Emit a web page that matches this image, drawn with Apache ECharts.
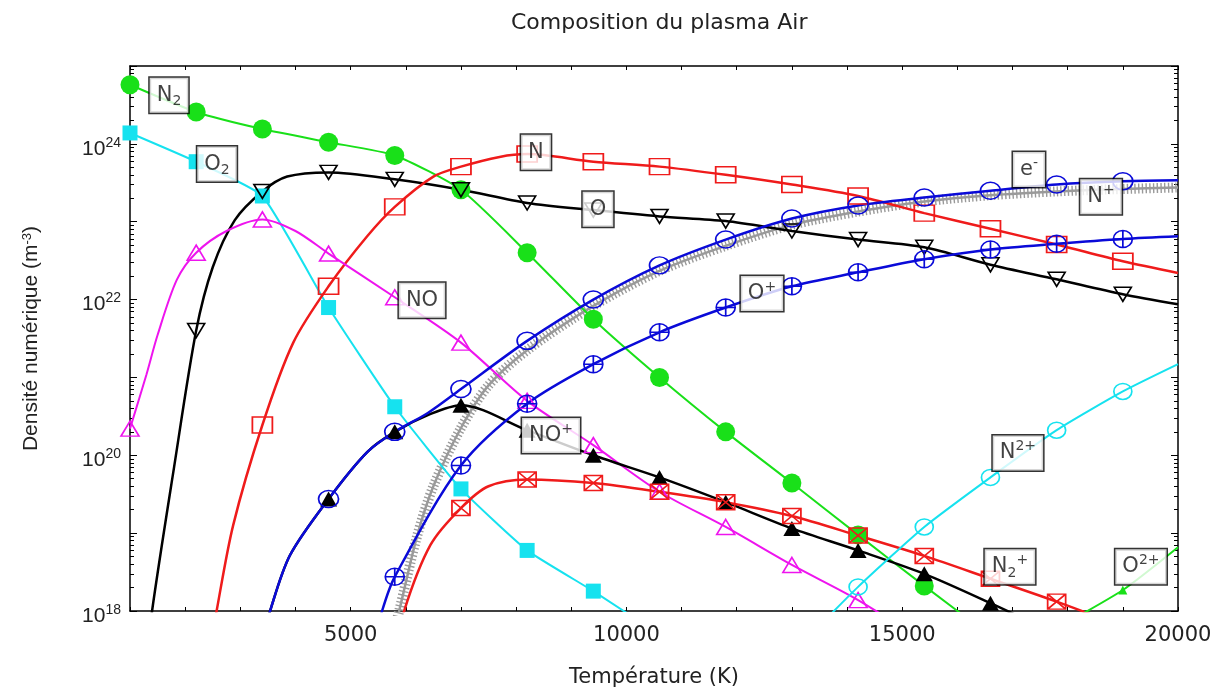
<!DOCTYPE html>
<html><head><meta charset="utf-8">
<script src="https://cdn.jsdelivr.net/npm/echarts@6/dist/echarts.min.js"></script>
<style>html,body{margin:0;padding:0;background:#fff}#c{width:1220px;height:693px}</style>
</head><body><div id="c"></div>
<script>
// Temperatures (K) where the markers are drawn
const markerT = [1000,2200,3400,4600,5800,7000,8200,9400,10600,11800,13000,14200,15400,16600,17800,19000];

// Number densities (m^-3) at the marker temperatures (null = no point)
const N2  = [5.75e24,2.57e24,1.55e24,1.05e24,7.1e23,2.57e23,4.0e22,5.6e21,1.0e21,2.0e20,4.4e19,9.5e18,2.1e18,4.8e17,null,null];
const O2  = [1.38e24,5.9e23,2.14e23,7.9e21,4.2e20,3.7e19,6.0e18,1.8e18,5.0e17,null,null,null,null,null,null,null];
const O   = [null,4.0e21,2.45e23,4.3e23,3.5e23,2.57e23,1.74e23,1.41e23,1.17e23,1.02e23,7.6e22,5.9e22,4.7e22,2.8e22,1.82e22,1.17e22];
const N   = [null,null,2.45e20,1.48e22,1.55e23,5.1e23,7.4e23,5.9e23,5.1e23,4.0e23,3.0e23,2.14e23,1.29e23,8.1e22,5.1e22,3.1e22];
const NO  = [2.2e20,4.0e22,1.07e23,3.9e22,1.07e22,2.8e21,5.0e20,1.35e20,3.4e19,1.2e19,3.9e18,1.38e18,4.0e17,null,null,null];
const NOp = [null,null,4.0e17,2.75e19,2.0e20,4.4e20,2.1e20,1.0e20,5.2e19,2.5e19,1.15e19,6.0e18,3.0e18,1.26e18,5.0e17,null];
const El  = [null,null,4.0e17,2.75e19,2.0e20,7.1e20,2.95e21,1.0e22,2.75e22,5.9e22,1.1e23,1.62e23,2.04e23,2.5e23,3.0e23,3.3e23];
const Op  = [null,null,null,null,2.75e18,7.4e19,4.6e20,1.48e21,3.8e21,7.9e21,1.48e22,2.24e22,3.3e22,4.4e22,5.2e22,6.0e22];
const N2p = [null,null,null,null,2.5e17,2.1e19,4.9e19,4.4e19,3.4e19,2.5e19,1.66e19,9.3e18,5.1e18,2.6e18,1.32e18,6.3e17];
const Npp = [null,null,null,null,null,null,null,null,null,null,2.8e17,2.04e18,1.2e19,5.2e19,2.1e20,6.6e20];
const Opp = [null,null,null,null,null,null,null,null,null,null,null,null,null,null,6.0e17,1.86e18];

// Extra curve points read between markers, [T, density]
const O_extra   = [[1300,2e17],[1400,1e18],[1800,7.1e19],[2500,2.6e22],[2900,1.05e23],[3850,3.8e23],[20000,8.7e21]];
const N_extra   = [[2400,2e17],[2570,1e18],[2870,1.26e19],[3960,2.8e21],[5300,6.5e22],[6500,3.8e23],[7700,6.8e23],[20000,2.2e22]];
const NO_extra  = [[1300,1.1e21],[1500,3.5e21],[1850,1.8e22],[2750,7.6e22],[4000,7.6e22]];
const NOp_extra = [[3540,1e18],[3900,5.2e18],[5300,1.1e20],[6450,3.4e20]];
const El_extra  = [[3540,1e18],[3900,5.2e18],[5300,1.1e20],[6400,3.5e20],[20000,3.4e23]];
const Op_extra  = [[5400,3.2e17],[5570,1e18],[20000,6.5e22]];
const N2p_extra = [[5970,1e18],[6450,7.1e18],[7500,4.0e19]];
const Npp_extra = [[20000,1.48e21]];
const Opp_extra = [[20000,6.6e18]];

// N+ (grey, dense '+' marks)
const NplusT = [5700,5880,6200,6500,7000,7500,8200,9400,10600,11800,13000,14200,15400,16600,17800,19000,20000];
const Nplus  = [3.2e17,1e18,8.9e18,4.0e19,2.24e20,7.9e20,2.24e21,8.3e21,2.34e22,4.9e22,9.1e22,1.35e23,1.82e23,2.19e23,2.45e23,2.63e23,2.75e23];

// Species labels: [T, density, text]
const labelsT    = [1707,2577,8360,9484,6294,17298,18603,12458,8633,17098,16953,19328];
const labelsV    = [4.2e24,5.5e23,7.8e23,1.45e23,9.8e21,4.7e23,2.1e23,1.2e22,1.8e20,1.07e20,3.7e18,3.7e18];
const labelsText = ['N{sub|2}','O{sub|2}','N','O','NO','e{sup|-}','N{sup|+}','O{sup|+}','NO{sup|+}','N{sup|2+}','N{sub|2}{sup|+}','O{sup|2+}'];

const xTicksMin = 1000, xTicksMax = 20000, xStep = 1000;
const yMajor = [1e18,1e19,1e20,1e21,1e22,1e23,1e24,1e25];
const yLabels = [1e18,1e20,1e22,1e24];
const yMinor = [];
for (let d = 18; d < 25; d++) for (let k = 2; k <= 9; k++) yMinor.push(k * Math.pow(10, d));

function merge(vals, extra) {
  const pts = [];
  markerT.forEach((t, i) => { if (vals[i] != null) pts.push({ value: [t, vals[i]] }); });
  (extra || []).forEach(p => pts.push({ value: [p[0], p[1]], symbol: 'none' }));
  pts.sort((a, b) => a.value[0] - b.value[0]);
  return pts;
}

const P_SQ = 'path://M0,0H10V10H0Z';
const P_SQX = 'path://M0,0H10V10H0Z M0,0L10,10 M10,0L0,10';
const P_CIR = 'path://M10,5A5,5,0,1,1,0,5A5,5,0,1,1,10,5Z';
const P_CIRP = 'path://M10,5A5,5,0,1,1,0,5A5,5,0,1,1,10,5Z M5,0V10 M0,5H10';
const P_TDN = 'path://M0,0H10L5,9Z';
const P_TUP = 'path://M5,0L10,9H0Z';

function curve(name, data, o) {
  return {
    name: name, type: 'line', data: data,
    smooth: o.smooth != null ? o.smooth : 0.3,
    symbol: o.symbol || 'none', symbolSize: o.size, showAllSymbol: true,
    lineStyle: { color: o.color, width: o.width || 2.5, type: o.dash || 'solid', cap: 'butt' },
    itemStyle: o.fill ? { color: o.color } : { color: 'rgba(0,0,0,0)', borderColor: o.color, borderWidth: 1.6 },
    emphasis: { disabled: true }, silent: true, z: o.z || 2, animation: false
  };
}

const GREEN = '#19e019', CYAN = '#16e2ef', RED = '#ef1b1b', MAG = '#ee14ee', BLUE = '#0a0ad8', BLACK = '#000', GREY = '#9a9a9a';

const nplusData = NplusT.map((t, i) => [t, Nplus[i]]);

const series = [
  curve('N+ hatch', nplusData, { color: GREY, width: 10, dash: [1.4, 2.3] }),
  curve('N+', nplusData, { color: GREY, width: 2.5 }),
  curve('N2', merge(N2), { color: GREEN, width: 2, symbol: 'circle', size: 19, fill: true, smooth: 0.2 }),
  curve('O2', merge(O2), { color: CYAN, width: 2, symbol: 'rect', size: 15, fill: true, smooth: 0.15 }),
  curve('O', merge(O, O_extra), { color: BLACK, width: 2.5, symbol: P_TDN, size: [17, 14] }),
  curve('N', merge(N, N_extra), { color: RED, width: 2.5, symbol: P_SQ, size: [20, 16] }),
  curve('NO', merge(NO, NO_extra), { color: MAG, width: 2, symbol: P_TUP, size: [18, 15], smooth: 0.3 }),
  curve('NO+', merge(NOp, NOp_extra), { color: BLACK, width: 2.5, symbol: 'triangle', size: [17, 15], fill: true }),
  curve('O+', merge(Op, Op_extra), { color: BLUE, width: 2.5, symbol: P_CIRP, size: [19, 17] }),
  curve('e-', merge(El, El_extra), { color: BLUE, width: 2.5, symbol: P_CIR, size: [20, 17] }),
  curve('N2+', merge(N2p, N2p_extra), { color: RED, width: 2.5, symbol: P_SQX, size: [18, 15] }),
  curve('N2+ion', merge(Npp, Npp_extra), { color: CYAN, width: 2, symbol: P_CIR, size: [18, 16], smooth: 0.2 }),
  curve('O2+', merge(Opp, Opp_extra), { color: GREEN, width: 2, symbol: 'triangle', size: 9, fill: true, smooth: 0.2 }),
  {
    name: 'labels', type: 'scatter', silent: true, z: 20, animation: false,
    symbol: 'circle', symbolSize: 1, itemStyle: { color: 'rgba(0,0,0,0)' },
    data: labelsT.map((t, i) => ({ value: [t, labelsV[i]], name: labelsText[i] })),
    label: {
      show: true, position: 'inside', formatter: p => p.name,
      fontFamily: 'DejaVu Sans', fontSize: 21, color: '#111', lineHeight: 27,
      backgroundColor: '#fff', borderColor: '#000', borderWidth: 1.5, padding: [4, 7, 4, 7],
      rich: {
        sub:  { fontFamily: 'DejaVu Sans', fontSize: 14, lineHeight: 14, verticalAlign: 'bottom', color: '#111' },
        sup:  { fontFamily: 'DejaVu Sans', fontSize: 14, lineHeight: 14, verticalAlign: 'top', color: '#111' }
      }
    },
    emphasis: { disabled: true }
  }
];

const axisLine = { show: true, lineStyle: { color: '#000', width: 1.5 } };
function yAxisCfg(pos, ticks, len, withLine) {
  return {
    type: 'log', logBase: 10, min: 1e18, max: 1e25, position: pos,
    axisLine: withLine ? axisLine : { show: false },
    axisTick: { show: true, inside: true, length: len, customValues: ticks, lineStyle: { color: '#000', width: 1 } },
    axisLabel: { show: false }, splitLine: { show: false }, minorTick: { show: false }
  };
}

const yMain = yAxisCfg('left', yMajor, 7, true);
yMain.axisLabel = {
  show: true, customValues: yLabels, margin: 9, padding: [10, 0, 0, 0],
  formatter: v => '{b|10}{s|' + Math.round(Math.log10(v)) + '}',
  rich: {
    b: { fontFamily: 'Liberation Sans', fontSize: 21, color: '#222', lineHeight: 26, verticalAlign: 'middle' },
    s: { fontFamily: 'Liberation Sans', fontSize: 14, color: '#222', lineHeight: 14, verticalAlign: 'top' }
  }
};
yMain.name = 'Densité numérique (m{s|-3})';
yMain.nameLocation = 'middle';
yMain.nameGap = 88;
yMain.nameTextStyle = {
  fontFamily: 'Liberation Sans', fontSize: 21, color: '#222',
  rich: { s: { fontFamily: 'Liberation Sans', fontSize: 13, color: '#222', verticalAlign: 'top', lineHeight: 13 } }
};

function xAxisCfg(pos, labels) {
  return {
    type: 'value', min: xTicksMin, max: xTicksMax, interval: xStep, position: pos,
    axisLine: axisLine,
    axisTick: { show: true, inside: true, length: 4, lineStyle: { color: '#000', width: 1 } },
    axisLabel: labels ? {
      show: true, margin: 14, fontFamily: 'DejaVu Sans', fontSize: 21, color: '#222',
      formatter: v => (v % 5000 === 0 ? String(v) : ''), showMinLabel: true, showMaxLabel: true
    } : { show: false },
    splitLine: { show: false }
  };
}
const xMain = xAxisCfg('bottom', true);
xMain.name = 'Température (K)';
xMain.nameLocation = 'middle';
xMain.nameGap = 56;
xMain.nameTextStyle = { fontFamily: 'DejaVu Sans', fontSize: 21, color: '#222' };

const chart = echarts.init(document.getElementById('c'));
chart.setOption({
  backgroundColor: '#fff',
  animation: false,
  title: {
    text: 'Composition du plasma Air', left: 506, top: 7,
    textStyle: { fontFamily: 'DejaVu Sans', fontSize: 22, fontWeight: 'normal', color: '#222' }
  },
  grid: { left: 130, right: 42, top: 66, bottom: 80, containLabel: false },
  xAxis: [xMain, xAxisCfg('top', false)],
  yAxis: [yMain, yAxisCfg('left', yMinor, 4, false), yAxisCfg('right', yMajor, 7, true), yAxisCfg('right', yMinor, 4, false)],
  series: series
});
</script>
</body></html>
